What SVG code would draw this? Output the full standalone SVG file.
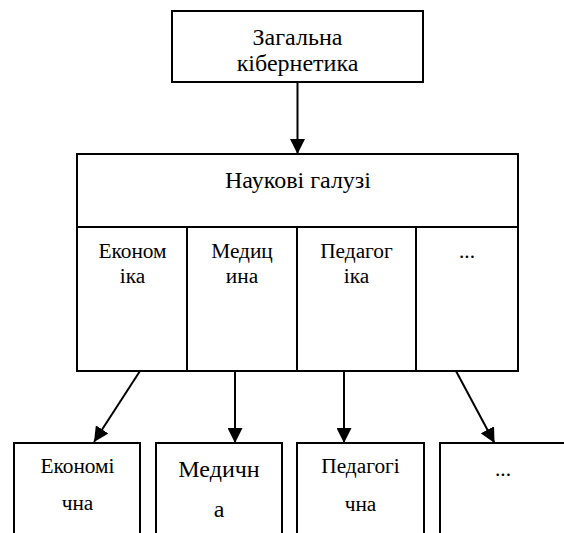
<svg xmlns="http://www.w3.org/2000/svg" width="564" height="533" viewBox="0 0 564 533">
<style>
.box{fill:#fff;stroke:#000;stroke-width:2}
.ln{stroke:#000;stroke-width:2;fill:none}
text{font-family:'Liberation Serif','Times New Roman',serif;fill:#000;text-anchor:middle}
.t{font-size:21.33px}
.b{font-size:24px}
.c{stroke:#000;stroke-width:2;fill:none;marker-end:url(#ah)}
</style>
<defs>
<marker id="ah" markerUnits="userSpaceOnUse" markerWidth="16" markerHeight="15" refX="15" refY="7.5" orient="auto" viewBox="0 0 16 15">
<path d="M0,0 L15,7.5 L0,15 z" fill="#000"/>
</marker>
</defs>
<rect width="564" height="533" fill="#fff"/>
<g id="general">
<rect class="box" x="172" y="11" width="251" height="71"/>
<text class="b" x="297.5" y="45">Загальна</text>
<text class="b" x="297.5" y="71">кібернетика</text>
</g>
<g id="fields">
<rect class="box" x="77" y="154" width="441" height="217"/>
<line class="ln" x1="77" y1="227" x2="518" y2="227"/>
<line class="ln" x1="187" y1="227" x2="187" y2="371"/>
<line class="ln" x1="297" y1="227" x2="297" y2="371"/>
<line class="ln" x1="416" y1="227" x2="416" y2="371"/>
<text class="b" x="298" y="188">Наукові галузі</text>
</g>
<g id="col-econ">
<text class="t" x="132.5" y="258">Економ</text>
<text class="t" x="132.5" y="283">іка</text>
</g>
<g id="col-med">
<text class="t" x="242" y="258">Медиц</text>
<text class="t" x="242" y="283">ина</text>
</g>
<g id="col-ped">
<text class="t" x="356.5" y="258">Педагог</text>
<text class="t" x="356.5" y="283">іка</text>
</g>
<g id="col-more">
<text class="t" x="467" y="258">...</text>
</g>
<g id="connectors">
<line class="c" x1="297.5" y1="82" x2="297.5" y2="154"/>
<line class="c" x1="140" y1="371" x2="94" y2="442"/>
<line class="c" x1="235" y1="371" x2="235" y2="443"/>
<line class="c" x1="344" y1="371" x2="344" y2="443"/>
<line class="c" x1="456" y1="371" x2="494.5" y2="443"/>
</g>
<g id="econ">
<rect class="box" x="14" y="443" width="126" height="100"/>
<text class="t" x="77.5" y="473">Економі</text>
<text class="t" x="77.5" y="510">чна</text>
</g>
<g id="med">
<rect class="box" x="156" y="443" width="126" height="100"/>
<text class="b" x="219" y="477">Медичн</text>
<text class="b" x="219" y="517">а</text>
</g>
<g id="ped">
<rect class="box" x="297" y="443" width="127" height="100"/>
<text class="t" x="360.5" y="473">Педагогі</text>
<text class="t" x="360.5" y="511">чна</text>
</g>
<g id="more">
<rect class="box" x="440" y="443" width="130" height="100"/>
<text class="t" x="503" y="476">...</text>
</g>
</svg>
